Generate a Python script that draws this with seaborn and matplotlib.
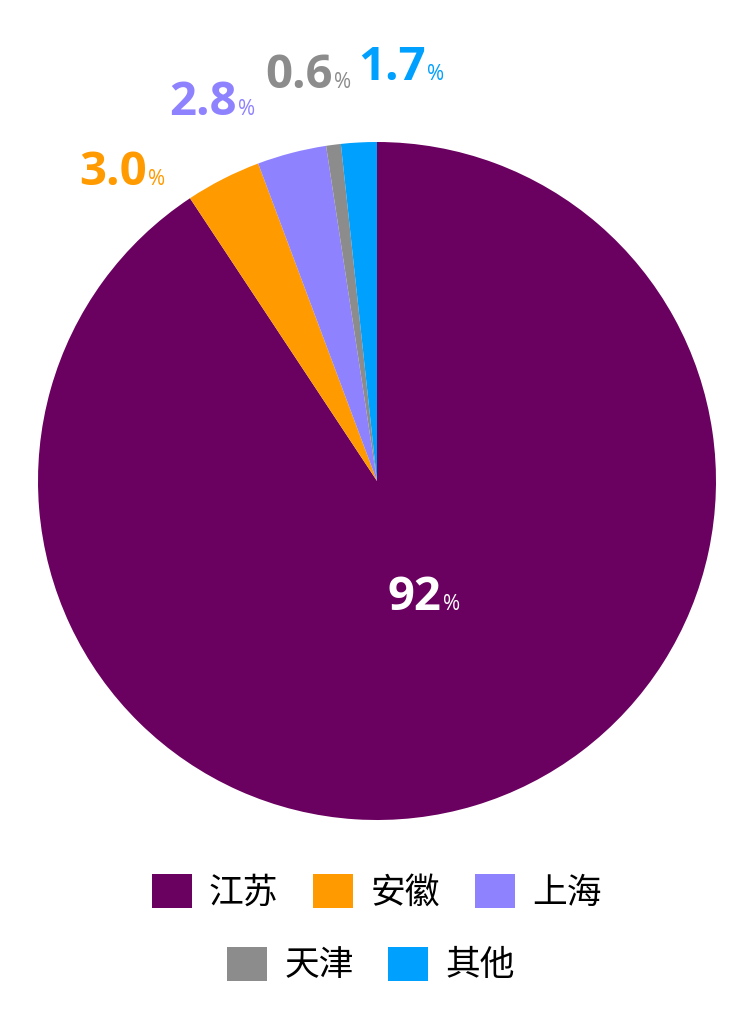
import matplotlib
matplotlib.use('Agg')
import matplotlib.pyplot as plt
import matplotlib.transforms as mtransforms
from matplotlib.patches import Patch
import numpy as np
import seaborn as sns

# data
regions = ['江苏', '安徽', '上海', '天津', '其他']
shares = [90.7, 3.6, 3.3, 0.7, 1.7]          # wedge sizes as drawn
label_text = ['92', '3.0', '2.8', '0.6', '1.7']  # printed labels
colors = ['#6a005f', '#ff9a00', '#8f82ff', '#8c8c8c', '#00a0ff']

sns.set_theme(style='white')
plt.rcParams['font.family'] = ['Noto Sans CJK SC', 'DejaVu Sans']

W, H, DPI = 755, 1030, 100
fig = plt.figure(figsize=(W / DPI, H / DPI), dpi=DPI)
fig.patch.set_facecolor('white')

cx, cy, R = 377, 481, 339
ax = fig.add_axes([(cx - R) / W, 1 - (cy + R) / H, 2 * R / W, 2 * R / H])
wedges, _ = ax.pie(shares, colors=colors, startangle=90, counterclock=False,
                   radius=1, wedgeprops=dict(linewidth=0))
ax.set_xlim(-1, 1)
ax.set_ylim(-1, 1)
ax.set_aspect('equal')
ax.axis('off')

# label placement: (angle shift in deg, radius) relative to wedge middle
label_place = [(3.3, 0.406), (13.7, 1.152), (9.7, 1.185), (2.5, 1.176), (-6.5, 1.185)]

renderer = fig.canvas.get_renderer()
px2pt = 72 / DPI
for w, txt, col, (dth, rr) in zip(wedges, label_text, colors, label_place):
    mid = np.deg2rad((w.theta1 + w.theta2) / 2 + dth)
    x, y = rr * np.cos(mid), rr * np.sin(mid)
    tcol = 'white' if txt == '92' else col
    num = ax.text(x, y, txt, ha='left', va='baseline', color=tcol,
                  fontsize=34, fontweight='bold', family='Open Sans')
    pct = ax.text(x, y, '%', ha='left', va='baseline', color=tcol,
                  fontsize=15, family='Open Sans')
    wn = num.get_window_extent(renderer).width * px2pt
    wp = pct.get_window_extent(renderer).width * px2pt
    gap = 1
    left = -(wn + gap + wp) / 2
    num.set_transform(mtransforms.offset_copy(ax.transData, fig, x=left, y=0, units='points'))
    pct.set_transform(mtransforms.offset_copy(ax.transData, fig, x=left + wn + gap, y=0, units='points'))

handles = [Patch(facecolor=c, edgecolor='none', label=r) for c, r in zip(colors, regions)]
leg_kw = dict(loc='center', frameon=False, fontsize=25, handlelength=1.15,
              handleheight=1.15, handletextpad=0.5, columnspacing=1.0, borderpad=0,
              labelcolor='black')
leg1 = fig.legend(handles=handles[:3], ncol=3, bbox_to_anchor=(376.5 / W, 1 - 892 / H), **leg_kw)
leg2 = fig.legend(handles=handles[3:], ncol=2, bbox_to_anchor=(371 / W, 1 - 965 / H), **leg_kw)

fig.savefig('out.png', dpi=DPI, facecolor='white')
